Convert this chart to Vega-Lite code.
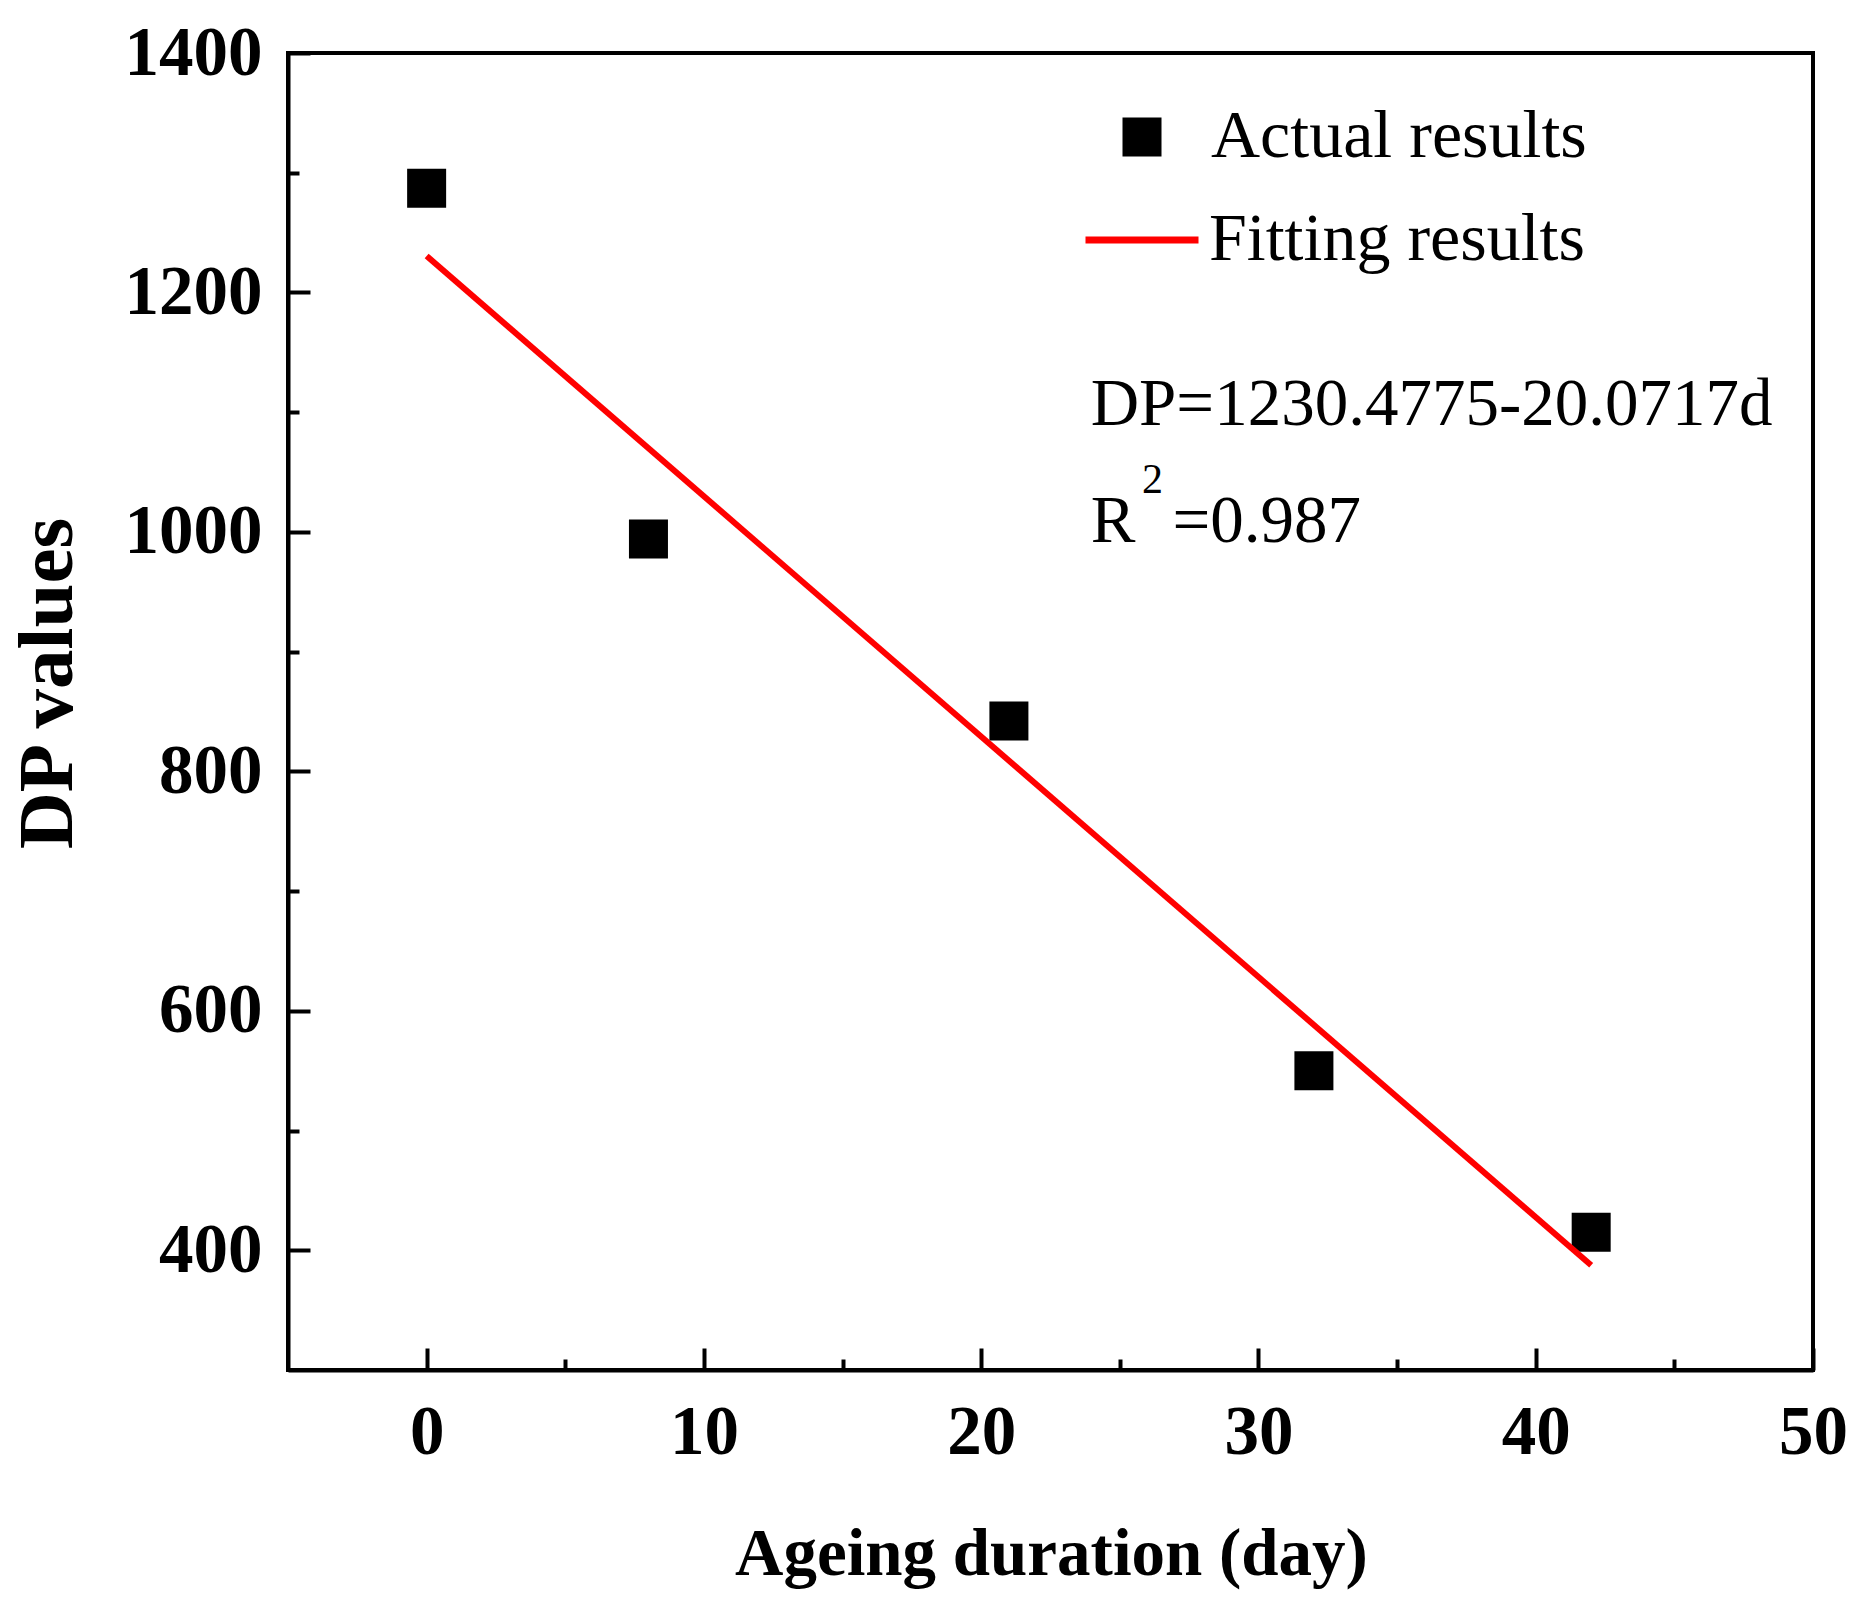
{
  "$schema": "https://vega.github.io/schema/vega-lite/v6.json",
  "autosize": "none",
  "width": 1525,
  "height": 1317,
  "padding": {"left": 288, "top": 53, "right": 53, "bottom": 250},
  "background": "white",
  "config": {
    "view": {"stroke": "black", "strokeWidth": 4},
    "font": "Liberation Serif",
    "axis": {
      "grid": false,
      "labelFont": "Liberation Serif",
      "labelFontWeight": "bold",
      "labelFontSize": 69,
      "labelColor": "black",
      "labelFlush": false,
      "labelOverlap": false,
      "titleFont": "Liberation Serif",
      "titleFontWeight": "bold",
      "titleFontSize": 67,
      "titleColor": "black",
      "domainColor": "black",
      "domainWidth": 4,
      "tickColor": "black",
      "tickWidth": 4
    },
    "legend": {
      "labelFont": "Liberation Serif",
      "labelFontSize": 68,
      "labelColor": "black",
      "labelLimit": 0,
      "padding": 0,
      "orient": "none"
    }
  },
  "datasets": {
    "actual": [
      {"day": 0, "dp": 1287},
      {"day": 8, "dp": 994},
      {"day": 21, "dp": 842},
      {"day": 32, "dp": 550},
      {"day": 42, "dp": 415}
    ],
    "fit": [
      {"day": 0, "dp": 1230.4775},
      {"day": 42, "dp": 387.466}
    ]
  },
  "layer": [
    {
      "data": {"name": "actual"},
      "mark": {"type": "point", "shape": "square", "filled": true, "color": "black", "opacity": 1, "size": 1521},
      "encoding": {
        "x": {
          "field": "day", "type": "quantitative",
          "scale": {"domain": [-5, 50], "nice": false, "zero": false},
          "axis": {
            "values": [0, 5, 10, 15, 20, 25, 30, 35, 40, 45, 50],
            "labelExpr": "datum.value % 10 === 0 ? datum.label : ''",
            "tickSize": {"condition": {"test": "datum.value % 10 === 0", "value": -22}, "value": -11},
            "labelPadding": 50,
            "title": "Ageing duration (day)",
            "titleX": 763,
            "titleY": 204,
            "titleBaseline": "alphabetic"
          }
        },
        "y": {
          "field": "dp", "type": "quantitative",
          "scale": {"domain": [300, 1400], "nice": false, "zero": false},
          "axis": {
            "values": [400, 500, 600, 700, 800, 900, 1000, 1100, 1200, 1300, 1400],
            "format": "d",
            "labelExpr": "datum.value % 200 === 0 ? datum.label : ''",
            "tickSize": {"condition": {"test": "datum.value % 200 === 0", "value": -22}, "value": -11},
            "labelPadding": 48,
            "title": "DP values",
            "titleFontSize": 79,
            "titleX": -217,
            "titleY": 630,
            "titleAngle": -90,
            "titleAlign": "center",
            "titleBaseline": "alphabetic"
          }
        },
        "shape": {
          "datum": "Actual results",
          "scale": {"range": ["square"]},
          "legend": {
            "title": null,
            "legendX": 820,
            "legendY": 50,
            "symbolSize": 1521,
            "symbolFillColor": "black",
            "symbolStrokeColor": "black",
            "symbolOpacity": 1,
            "labelOffset": 35
          }
        }
      }
    },
    {
      "data": {"name": "fit"},
      "mark": {"type": "line", "strokeWidth": 6},
      "encoding": {
        "x": {"field": "day", "type": "quantitative"},
        "y": {"field": "dp", "type": "quantitative"},
        "color": {
          "datum": "Fitting results",
          "scale": {"range": ["#ff0000"]},
          "legend": {
            "title": null,
            "legendX": 794,
            "legendY": 127,
            "symbolType": "stroke",
            "symbolSize": 12769,
            "symbolStrokeWidth": 7,
            "labelOffset": 7
          }
        }
      }
    },
    {
      "data": {"values": [{}]},
      "mark": {"type": "text", "text": "DP=1230.4775-20.0717d", "font": "Liberation Serif", "fontSize": 67, "align": "left", "baseline": "alphabetic", "color": "black"},
      "encoding": {"x": {"datum": 23.95}, "y": {"datum": 1089.3}}
    },
    {
      "data": {"values": [{}]},
      "mark": {"type": "text", "text": "R", "font": "Liberation Serif", "fontSize": 67, "align": "left", "baseline": "alphabetic", "color": "black"},
      "encoding": {"x": {"datum": 23.95}, "y": {"datum": 991.6}}
    },
    {
      "data": {"values": [{}]},
      "mark": {"type": "text", "text": "2", "font": "Liberation Serif", "fontSize": 42, "align": "left", "baseline": "alphabetic", "color": "black"},
      "encoding": {"x": {"datum": 25.8}, "y": {"datum": 1032.5}}
    },
    {
      "data": {"values": [{}]},
      "mark": {"type": "text", "text": "=0.987", "font": "Liberation Serif", "fontSize": 67, "align": "left", "baseline": "alphabetic", "color": "black"},
      "encoding": {"x": {"datum": 26.9}, "y": {"datum": 991.6}}
    }
  ]
}
